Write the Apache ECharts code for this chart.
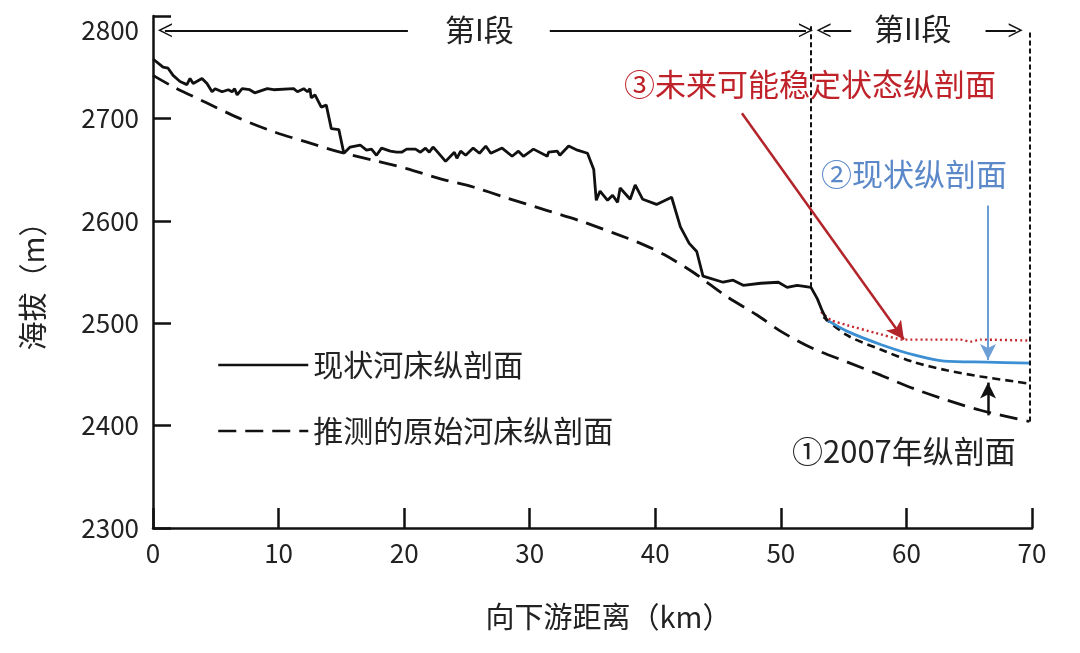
<!DOCTYPE html>
<html><head><meta charset="utf-8">
<script src="https://cdn.jsdelivr.net/npm/echarts@6/dist/echarts.min.js"></script>
<style>html,body{margin:0;padding:0;background:#fff}#c{width:1080px;height:653px}</style>
</head><body><div id="c"></div>
<script>
// ---- data (km, m) ----
const currentBed = [[0,2758],[0.8,2750],[1.2,2749],[1.6,2742],[2.15,2736],[2.7,2733],[2.95,2739],[3.2,2734],[3.9,2739],[4.3,2734],[4.7,2726],[4.95,2729],[5.5,2726],[6.0,2728],[6.3,2726],[6.5,2729],[6.7,2723],[7.1,2729],[7.7,2728],[8.1,2725],[9.1,2729],[9.6,2728],[11.2,2729],[11.5,2726],[12.0,2729],[12.3,2726],[12.5,2729],[12.6,2720],[12.9,2723],[13.4,2711],[13.8,2713],[14.2,2690],[14.8,2689],[15.2,2666],[15.7,2672],[16.5,2674],[17.0,2669],[17.4,2670],[17.8,2664],[18.2,2671],[18.9,2668],[19.4,2667],[19.8,2667],[20.2,2670],[20.9,2670],[21.3,2667],[21.7,2671],[22.0,2667],[22.3,2672],[22.6,2668],[23.3,2658],[24.0,2667],[24.2,2661],[24.5,2668],[24.9,2664],[25.5,2671],[26.0,2666],[26.5,2673],[26.9,2666],[27.8,2671],[28.6,2663],[29.1,2668],[29.5,2663],[30.3,2670],[31.4,2663],[31.5,2667],[32.2,2668],[32.4,2664],[33.1,2673],[33.8,2669],[34.6,2666],[35.1,2650],[35.3,2620],[35.6,2629],[36.2,2620],[36.6,2625],[37.0,2618],[37.2,2632],[38.0,2621],[38.4,2635],[39.0,2621],[40.1,2616],[41.3,2623],[42.0,2594],[42.7,2578],[43.3,2570],[43.8,2546],[45.4,2540],[46.2,2542],[47.0,2537],[48.4,2539],[49.8,2540],[50.5,2535],[51.3,2537],[52.4,2535],[52.9,2524],[53.3,2512],[53.7,2502]];
const inferredBed = [[0,2742],[1.6,2731],[4.3,2715],[6.9,2700],[9.6,2687],[12.2,2677],[14.9,2667],[17.6,2659],[20.2,2651],[22.9,2641],[25.5,2633],[28,2623],[31.4,2610],[34,2600],[36.7,2588],[39,2577],[40.7,2567],[43.1,2549],[45.7,2526],[48.1,2508],[50,2492],[52.6,2475],[55.3,2462],[58,2449],[60.6,2436],[63.2,2425],[65.9,2415],[69.8,2404]];
const profile2007 = [[53.4,2506],[55.3,2488],[58.0,2474],[60.6,2462],[63.2,2454],[65.9,2448],[69.8,2441]];
const profileNow = [[53.7,2503],[55.3,2492],[58.0,2479],[60.6,2469],[63.0,2463],[66.4,2462],[69.8,2461]];
const profileFuture = [[53.2,2511],[54.0,2503],[55.3,2498],[57.4,2491],[59.8,2484],[62.0,2484],[64.3,2484],[65.1,2482],[65.9,2484],[69.8,2483]];
// ---- annotation geometry (km, m) ----
const dividerI = [[52.4,2535],[52.4,2790]];
const dividerII = [[69.8,2404],[69.8,2785]];
const arrowILeft = [[20.3,2786],[0.95,2786]];
const arrowIRight = [[31.6,2786],[52.0,2786]];
const arrowIILeft = [[55.6,2786],[53.4,2786]];
const arrowIIRight = [[66.3,2786],[68.7,2786]];
const arrowFuture = [[46.9,2705],[59.8,2484]];
const arrowNow = [[66.5,2615],[66.5,2464]];
const arrow2007 = [[66.5,2410],[66.5,2442]];
const labels = {
  sectionI: '第I段', sectionII: '第II段',
  future: '③未来可能稳定状态纵剖面', now: '②现状纵剖面', y2007: '①2007年纵剖面'
};
const seriesNames = ['现状河床纵剖面','推测的原始河床纵剖面'];

const FONT = '"Noto Sans CJK SC", "Noto Sans", sans-serif';
const chevron = 'path://M0,12 L6,0 L12,12 L10.6,12 L6,2.8 L1.4,12 Z';
function seg(pts){ return [{coord: pts[0]},{coord: pts[1]}]; }

const chart = echarts.init(document.getElementById('c'));
chart.setOption({
  animation: false,
  backgroundColor: '#fff',
  grid: {left: 153, right: 48, top: 16, bottom: 125},
  legend: {
    data: seriesNames, orient: 'vertical', left: 212, top: 344,
    itemWidth: 90, itemHeight: 14, itemGap: 34,
    itemStyle: {opacity: 0},
    lineStyle: {width: 2.5},
    textStyle: {fontSize: 30, fontFamily: FONT, color: '#222', lineHeight: 32}
  },
  xAxis: {
    type: 'value', min: 0, max: 70, interval: 10,
    name: '向下游距离（km）', nameLocation: 'middle', nameGap: 74,
    nameTextStyle: {fontSize: 29, fontFamily: FONT, color: '#222', padding: [0,0,0,32]},
    axisLine: {lineStyle: {color: '#111', width: 2.5}},
    axisTick: {inside: true, length: 20, lineStyle: {color: '#111', width: 2.5}},
    axisLabel: {fontSize: 26, fontFamily: FONT, color: '#222', margin: 12},
    splitLine: {show: false}
  },
  yAxis: {
    type: 'value', min: 2300, max: 2800, interval: 100,
    name: '海拔（m）', nameLocation: 'middle', nameGap: 106,
    nameTextStyle: {fontSize: 29, fontFamily: FONT, color: '#222', padding: [0,14,0,0]},
    axisLine: {lineStyle: {color: '#111', width: 2.5}},
    axisTick: {inside: true, length: 18, lineStyle: {color: '#111', width: 2.5}},
    axisLabel: {
      fontSize: 26, fontFamily: FONT, color: '#222', margin: 14,
      formatter: v => v === 2800 ? '{top|' + v + '}' : String(v),
      rich: {top: {fontSize: 26, fontFamily: FONT, color: '#222', padding: [28,0,0,0]}}
    },
    splitLine: {show: false}
  },
  series: [
    {name: seriesNames[0], type: 'line', data: currentBed, showSymbol: false, symbol: 'none',
     lineStyle: {color: '#111', width: 2.8}, itemStyle: {color: '#111'}, z: 5,
     markLine: {silent: true, symbol: ['none','none'], label: {show: false},
       lineStyle: {color: '#111', width: 2, type: [5,3]},
       data: [seg(dividerI), seg(dividerII)]}},
    {name: seriesNames[1], type: 'line', data: inferredBed, showSymbol: false, symbol: 'none', smooth: 0.3,
     lineStyle: {color: '#111', width: 2.8, type: [18,9]}, itemStyle: {color: '#111'},
     markLine: {silent: true, symbol: [chevron, 'none'], symbolSize: [14, 14], symbolOffset: 0, label: {show: false},
       lineStyle: {color: '#111', width: 2, type: 'solid'},
       data: [seg(arrowILeft.slice().reverse()), seg(arrowIRight.slice().reverse()),
              seg(arrowIILeft.slice().reverse()), seg(arrowIIRight.slice().reverse())]}},
    {name: '2007', type: 'line', data: profile2007, showSymbol: false, symbol: 'none', smooth: 0.3,
     lineStyle: {color: '#111', width: 2.6, type: [8,5]},
     markLine: {silent: true, symbol: ['none','arrow'], symbolSize: [12, 16], label: {show: false},
       lineStyle: {color: '#111', width: 2.5, type: 'solid'}, data: [seg(arrow2007)]}},
    {name: 'now', type: 'line', data: profileNow, showSymbol: false, symbol: 'none', smooth: 0.3,
     lineStyle: {color: '#3b8fd2', width: 2.8},
     markLine: {silent: true, symbol: ['none','arrow'], symbolSize: [12, 16], label: {show: false},
       lineStyle: {color: '#6c9fd6', width: 2, type: 'solid'}, data: [seg(arrowNow)]}},
    {name: 'future', type: 'line', data: profileFuture, showSymbol: false, symbol: 'none', smooth: 0.2,
     lineStyle: {color: '#c8282e', width: 2.4, type: [2,3]},
     markLine: {silent: true, symbol: ['none','arrow'], symbolSize: [14, 18], label: {show: false},
       lineStyle: {color: '#b3242a', width: 2.5, type: 'solid'}, data: [seg(arrowFuture)]}}
  ],
  graphic: [
    {type: 'text', left: 445, top: 15, style: {text: labels.sectionI, fontSize: 30, fontFamily: FONT, fill: '#222'}},
    {type: 'text', left: 874, top: 14, style: {text: labels.sectionII, fontSize: 30, fontFamily: FONT, fill: '#222'}},
    {type: 'text', left: 624, top: 69, style: {text: labels.future, fontSize: 31, fontFamily: FONT, fill: '#c0222a'}},
    {type: 'text', left: 821, top: 159, style: {text: labels.now, fontSize: 31, fontFamily: FONT, fill: '#5a88c8'}},
    {type: 'text', left: 792, top: 436, style: {text: labels.y2007, fontSize: 31, fontFamily: FONT, fill: '#222'}}
  ]
});
</script></body></html>
